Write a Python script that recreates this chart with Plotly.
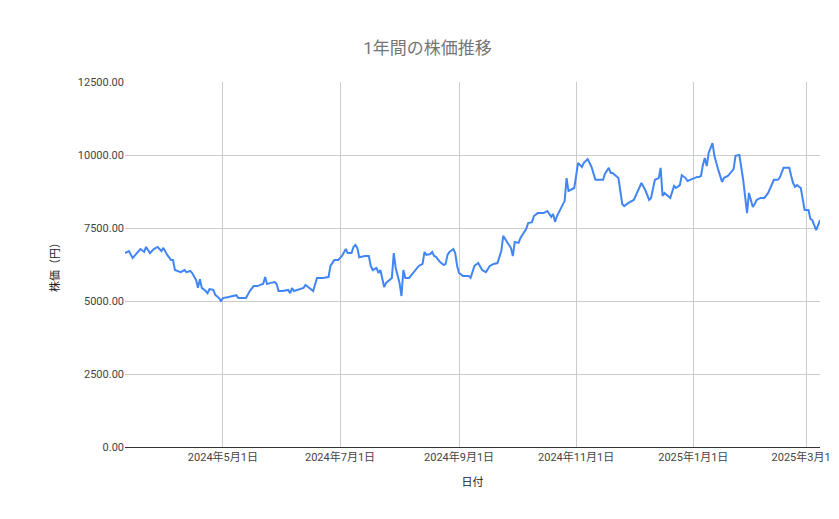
import pandas as pd
import plotly.graph_objects as go

# days since 2024-03-11 and closing price (円)
days = [0, 2, 4, 6, 8, 10, 11, 13, 15, 17, 19, 20, 22, 24, 25, 26, 28, 29, 31, 32, 34, 35, 37, 38, 39, 40,
        42, 43, 44, 46, 47, 49, 50, 51, 54, 56, 58, 59, 63, 65, 67, 69, 71, 72, 73, 74, 76, 78, 79, 80,
        82, 85, 86, 87, 88, 90, 93, 94, 96, 98, 100, 103, 106, 107, 109, 111, 113, 115, 116, 118, 119, 120,
        121, 122, 125, 127, 128, 129, 131, 132, 133, 135, 136, 138, 139, 140, 141, 143, 144, 145, 146, 148,
        150, 153, 155, 156, 157, 159, 160, 161, 162, 164, 166, 167, 168, 169, 171, 172, 173, 174, 176, 178,
        179, 180, 182, 184, 186, 188, 190, 192, 194, 196, 197, 199, 201, 202, 203, 205, 206, 209, 210, 212,
        213, 215, 218, 220, 222, 223, 224, 225, 227, 229, 230, 231, 234, 236, 238, 239, 241, 243, 245, 247,
        249, 250, 252, 253, 254, 257, 259, 260, 262, 265, 268, 269, 271, 272, 273, 274, 276, 278, 279, 280,
        281, 284, 286, 287, 289, 290, 292, 293, 296, 298, 299, 300, 301, 302, 303, 304, 306, 307, 309, 311,
        312, 314, 317, 318, 320, 322, 324, 325, 326, 327, 328, 329, 331, 333, 335, 337, 338, 340, 341, 343,
        344, 346, 347, 348, 349, 350, 352, 354, 356, 357, 358, 359, 360, 361, 362]
prices = [6640, 6710, 6470, 6640, 6780, 6680, 6850, 6640, 6780, 6850, 6710, 6820, 6580, 6400, 6400, 6060,
          6030, 5990, 6060, 5990, 6030, 5960, 5720, 5450, 5750, 5450, 5340, 5270, 5410, 5380, 5210, 5100,
          5000, 5100, 5140, 5170, 5200, 5100, 5100, 5340, 5510, 5510, 5550, 5590, 5820, 5580, 5620, 5650,
          5580, 5340, 5340, 5380, 5270, 5440, 5340, 5380, 5450, 5550, 5450, 5340, 5790, 5790, 5820, 6200,
          6400, 6400, 6540, 6780, 6640, 6640, 6850, 6920, 6820, 6500, 6540, 6540, 6200, 6060, 6130, 5960,
          6060, 5480, 5620, 5720, 5790, 6640, 6130, 5620, 5170, 6060, 5790, 5790, 5960, 6200, 6270, 6680,
          6580, 6610, 6680, 6540, 6510, 6340, 6230, 6270, 6580, 6680, 6780, 6640, 6200, 5960, 5860, 5860,
          5860, 5790, 6200, 6300, 6060, 5990, 6200, 6270, 6300, 6710, 7230, 7020, 6820, 6540, 7020, 6990,
          7160, 7470, 7670, 7700, 7910, 8010, 8010, 8080, 7880, 7980, 7710, 7910, 8190, 8430, 9210, 8770,
          8870, 9730, 9590, 9730, 9860, 9590, 9150, 9150, 9150, 9360, 9560, 9380, 9380, 9210, 8320, 8250,
          8350, 8460, 8870, 9040, 8800, 8600, 8460, 8530, 9150, 9210, 9560, 8600, 8700, 8530, 8940, 8870,
          8970, 9310, 9210, 9110, 9210, 9250, 9250, 9280, 9660, 9900, 9620, 10070, 10410, 9970, 9490, 9080,
          9220, 9280, 9520, 9970, 10000, 9150, 8010, 8700, 8460, 8220, 8320, 8460, 8530, 8530, 8700, 8970,
          9150, 9150, 9220, 9560, 9560, 9560, 9280, 9040, 8910, 8970, 8870, 8120, 8120, 7810, 7770, 7630,
          7430, 7600, 7770]

dates = pd.Timestamp("2024-03-11") + pd.to_timedelta(days, unit="D")
tick_dates = ["2024-05-01", "2024-07-01", "2024-09-01", "2024-11-01", "2025-01-01", "2025-03-01"]
tick_text = ["2024年5月1日", "2024年7月1日", "2024年9月1日", "2024年11月1日", "2025年1月1日", "2025年3月1日"]
y_ticks = [0, 2500, 5000, 7500, 10000, 12500]

fig = go.Figure(go.Scatter(x=dates, y=prices, mode="lines",
                           line=dict(color="#4285F4", width=2)))

fig.update_layout(
    width=839, height=519,
    margin=dict(l=117, r=27, t=74, b=80, autoexpand=False),
    paper_bgcolor="white", plot_bgcolor="white",
    font=dict(family="Roboto, Noto Sans CJK JP", size=11, color="#444"),
    title=dict(text="1年間の株価推移", x=0.5, xanchor="center",
               yref="container", y=1 - 40 / 519, yanchor="middle",
               font=dict(size=17, color="#757575")),
    showlegend=False,
)
fig.update_xaxes(
    range=[dates[0], dates[-1]], tickvals=tick_dates, ticktext=tick_text,
    showgrid=True, gridcolor="#cccccc", showline=True, linecolor="#333", linewidth=1,
    ticks="", automargin=False, title=dict(text="日付", font=dict(size=11, color="#222")),
)
fig.update_yaxes(
    range=[0, 12500], tickvals=y_ticks, tickformat=".2f",
    showgrid=True, gridcolor="#cccccc", zeroline=False, ticks="", automargin=False,
    title=dict(text="株価（円）", font=dict(size=11, color="#222")),
)

fig.write_html("out.html")
